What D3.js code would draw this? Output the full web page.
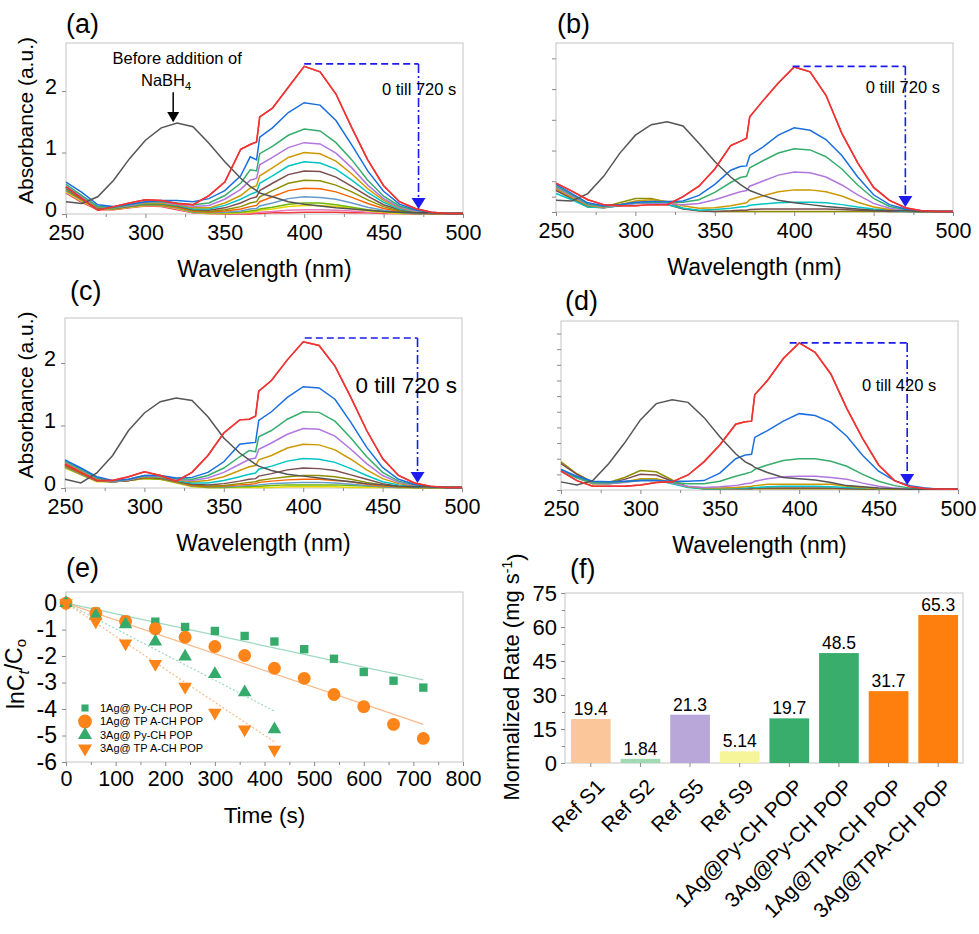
<!DOCTYPE html>
<html>
<head>
<meta charset="utf-8">
<script src="https://cdn.jsdelivr.net/npm/d3@7"></script>
<style>
  body { margin: 0; background: #fff; }
  svg { font-family: Arial, "Liberation Sans", sans-serif; }
</style>
</head>
<body>
<svg id="fig" width="979" height="934"></svg>
<script>
// ---- Data ----

// wavelength grid shared by every spectrum (nm)
const wavelengths = [250,260,270,280,290,300,310,320,330,340,350,360,366,370,372,380,390,400,410,420,430,440,450,460,470,480,490,500]

// line colours, first = 0 s (red), then later times
const lineColors = ['#f03434','#1a6fdf','#37ad6b','#b177de','#cc9900','#00c4c4','#7d4e4e','#8e8e00','#fb6501','#6699cc','#6fb802','#e8d800','#e878b8','#ef3b3b']

// (a) 1Ag@Py-CH POP, 0 till 720 s
const beforeA = [0.20,0.17,0.28,0.55,0.90,1.20,1.40,1.48,1.42,1.15,0.85,0.58,0.45,0.38,0.34,0.28,0.20,0.16,0.13,0.10,0.08,0.06,0.04,0.03,0.02,0.02,0.01,0.01]
const spectraA = [
  [0.44,0.25,0.06,0.12,0.18,0.23,0.22,0.17,0.15,0.30,0.52,1.05,1.13,1.17,1.58,1.72,2.06,2.40,2.31,1.95,1.40,0.88,0.46,0.20,0.09,0.03,0.01,0.01],
  [0.52,0.35,0.15,0.12,0.16,0.20,0.22,0.22,0.20,0.25,0.38,0.62,0.93,0.88,1.25,1.40,1.65,1.81,1.77,1.52,1.12,0.70,0.37,0.16,0.07,0.03,0.01,0.01],
  [0.48,0.30,0.12,0.10,0.15,0.20,0.20,0.18,0.15,0.18,0.30,0.50,0.72,0.70,0.98,1.10,1.28,1.38,1.35,1.16,0.88,0.55,0.29,0.13,0.06,0.02,0.01,0.01],
  [0.45,0.28,0.12,0.10,0.14,0.19,0.19,0.16,0.12,0.14,0.24,0.40,0.55,0.58,0.80,0.92,1.08,1.16,1.14,0.99,0.75,0.47,0.25,0.11,0.05,0.02,0.01,0.01],
  [0.44,0.27,0.11,0.10,0.14,0.18,0.18,0.15,0.10,0.10,0.18,0.30,0.42,0.46,0.62,0.75,0.92,1.00,0.98,0.86,0.65,0.41,0.22,0.10,0.04,0.02,0.01,0.01],
  [0.42,0.26,0.11,0.10,0.13,0.17,0.17,0.14,0.08,0.08,0.14,0.24,0.32,0.36,0.50,0.62,0.78,0.85,0.83,0.73,0.55,0.35,0.19,0.08,0.04,0.02,0.01,0.01],
  [0.42,0.25,0.10,0.10,0.13,0.17,0.17,0.13,0.07,0.06,0.10,0.18,0.25,0.28,0.38,0.50,0.64,0.70,0.69,0.60,0.45,0.29,0.15,0.07,0.03,0.01,0.01,0.01],
  [0.40,0.24,0.10,0.09,0.12,0.16,0.16,0.12,0.06,0.04,0.07,0.12,0.18,0.20,0.28,0.38,0.50,0.55,0.54,0.47,0.36,0.23,0.12,0.05,0.02,0.01,0.01,0.01],
  [0.40,0.24,0.10,0.09,0.12,0.16,0.15,0.11,0.05,0.03,0.05,0.08,0.12,0.14,0.20,0.28,0.38,0.42,0.41,0.36,0.27,0.17,0.09,0.04,0.02,0.01,0.01,0.01],
  [0.38,0.23,0.09,0.09,0.12,0.15,0.15,0.10,0.04,0.02,0.03,0.05,0.08,0.09,0.13,0.18,0.25,0.28,0.27,0.24,0.18,0.11,0.06,0.03,0.01,0.01,0.01,0.01],
  [0.38,0.22,0.09,0.08,0.12,0.15,0.14,0.10,0.03,0.02,0.02,0.03,0.05,0.06,0.08,0.11,0.16,0.18,0.18,0.15,0.11,0.07,0.04,0.02,0.01,0.01,0.01,0.01],
  [0.36,0.21,0.08,0.08,0.11,0.14,0.14,0.09,0.03,0.01,0.01,0.02,0.03,0.04,0.06,0.08,0.12,0.14,0.14,0.12,0.09,0.05,0.03,0.01,0.01,0.01,0.01,0.01],
  [0.35,0.20,0.08,0.08,0.11,0.14,0.13,0.08,0.02,0.01,0.01,0.01,0.02,0.02,0.03,0.04,0.06,0.07,0.07,0.06,0.05,0.03,0.02,0.01,0.01,0.01,0.01,0.01],
  [0.34,0.19,0.07,0.07,0.10,0.13,0.12,0.07,0.02,0.01,0.00,0.00,0.00,0.01,0.01,0.02,0.02,0.03,0.03,0.03,0.02,0.02,0.01,0.01,0.00,0.00,0.00,0.00]
]

// (b) 3Ag@Py-CH POP, 0 till 720 s
const beforeB = [0.19,0.18,0.30,0.58,0.95,1.25,1.42,1.47,1.40,1.12,0.82,0.57,0.45,0.38,0.35,0.27,0.19,0.15,0.12,0.09,0.07,0.05,0.03,0.02,0.02,0.01,0.01,0.01]
const spectraB = [
  [0.47,0.34,0.20,0.12,0.10,0.10,0.12,0.12,0.25,0.42,0.70,1.08,1.15,1.20,1.55,1.80,2.10,2.36,2.28,1.90,1.28,0.80,0.40,0.19,0.07,0.02,0.01,0.01],
  [0.45,0.30,0.15,0.10,0.12,0.16,0.17,0.17,0.18,0.27,0.45,0.68,0.74,0.75,0.92,1.05,1.25,1.37,1.33,1.18,0.92,0.57,0.28,0.12,0.05,0.02,0.01,0.01],
  [0.42,0.28,0.13,0.09,0.12,0.15,0.16,0.16,0.16,0.20,0.32,0.48,0.56,0.58,0.72,0.83,0.96,1.03,1.01,0.90,0.70,0.44,0.22,0.09,0.04,0.02,0.01,0.01],
  [0.40,0.26,0.12,0.08,0.11,0.14,0.15,0.14,0.12,0.14,0.20,0.28,0.33,0.35,0.42,0.50,0.60,0.65,0.64,0.57,0.44,0.28,0.14,0.06,0.03,0.01,0.01,0.01],
  [0.38,0.24,0.11,0.07,0.12,0.18,0.20,0.17,0.10,0.06,0.07,0.10,0.13,0.15,0.20,0.26,0.33,0.36,0.36,0.33,0.26,0.16,0.08,0.04,0.02,0.01,0.01,0.01],
  [0.30,0.20,0.08,0.07,0.10,0.14,0.15,0.12,0.06,0.03,0.04,0.06,0.08,0.09,0.11,0.13,0.15,0.16,0.16,0.15,0.12,0.08,0.05,0.03,0.01,0.01,0.01,0.01],
  [0.35,0.22,0.09,0.07,0.10,0.15,0.16,0.12,0.05,0.02,0.01,0.02,0.03,0.03,0.04,0.05,0.05,0.05,0.05,0.05,0.04,0.03,0.02,0.01,0.01,0.01,0.01,0.01],
  [0.38,0.22,0.08,0.08,0.15,0.22,0.22,0.16,0.06,0.02,0.01,0.01,0.01,0.01,0.01,0.01,0.01,0.01,0.01,0.01,0.01,0.01,0.01,0.01,0.01,0.00,0.00,0.00]
]

// (c) 1Ag@TPA-CH POP, 0 till 720 s
const beforeC = [0.14,0.08,0.24,0.52,0.92,1.20,1.38,1.44,1.40,1.14,0.80,0.56,0.45,0.38,0.35,0.28,0.22,0.19,0.16,0.13,0.10,0.07,0.05,0.03,0.02,0.02,0.01,0.01]
const spectraC = [
  [0.38,0.25,0.12,0.12,0.18,0.26,0.20,0.11,0.25,0.52,0.88,1.09,1.10,1.15,1.55,1.72,2.05,2.34,2.28,1.95,1.45,0.92,0.47,0.20,0.08,0.03,0.01,0.01],
  [0.45,0.32,0.18,0.12,0.14,0.20,0.20,0.16,0.17,0.25,0.42,0.70,0.72,0.73,1.08,1.22,1.45,1.62,1.60,1.42,1.05,0.65,0.33,0.14,0.06,0.02,0.01,0.01],
  [0.43,0.30,0.16,0.11,0.14,0.20,0.20,0.15,0.14,0.20,0.32,0.50,0.60,0.58,0.82,0.92,1.10,1.22,1.21,1.07,0.80,0.50,0.25,0.11,0.05,0.02,0.01,0.01],
  [0.42,0.29,0.15,0.10,0.13,0.19,0.19,0.14,0.12,0.16,0.25,0.38,0.46,0.48,0.62,0.72,0.86,0.95,0.94,0.83,0.62,0.39,0.20,0.09,0.04,0.02,0.01,0.01],
  [0.40,0.28,0.14,0.10,0.13,0.18,0.18,0.13,0.10,0.12,0.18,0.28,0.34,0.36,0.45,0.52,0.64,0.70,0.69,0.61,0.46,0.29,0.15,0.07,0.03,0.01,0.01,0.01],
  [0.38,0.26,0.13,0.10,0.13,0.18,0.17,0.12,0.08,0.08,0.12,0.18,0.22,0.24,0.30,0.35,0.43,0.47,0.46,0.41,0.31,0.20,0.10,0.05,0.02,0.01,0.01,0.01],
  [0.37,0.25,0.13,0.10,0.12,0.17,0.16,0.11,0.06,0.05,0.07,0.11,0.14,0.15,0.19,0.23,0.29,0.32,0.31,0.28,0.21,0.14,0.07,0.03,0.02,0.01,0.01,0.01],
  [0.36,0.24,0.12,0.10,0.12,0.17,0.16,0.10,0.05,0.03,0.04,0.07,0.09,0.10,0.12,0.15,0.18,0.20,0.20,0.18,0.14,0.09,0.05,0.02,0.01,0.01,0.01,0.01],
  [0.35,0.23,0.12,0.10,0.12,0.16,0.15,0.10,0.04,0.02,0.03,0.05,0.06,0.07,0.09,0.11,0.13,0.14,0.14,0.12,0.10,0.06,0.03,0.02,0.01,0.01,0.01,0.01],
  [0.34,0.22,0.11,0.10,0.12,0.16,0.15,0.09,0.03,0.02,0.02,0.03,0.04,0.04,0.05,0.07,0.08,0.09,0.09,0.08,0.06,0.04,0.02,0.01,0.01,0.01,0.01,0.01],
  [0.33,0.22,0.11,0.10,0.12,0.15,0.14,0.09,0.03,0.01,0.01,0.02,0.02,0.03,0.03,0.04,0.05,0.05,0.05,0.05,0.04,0.03,0.02,0.01,0.01,0.01,0.01,0.01],
  [0.32,0.21,0.10,0.10,0.12,0.15,0.14,0.08,0.02,0.01,0.01,0.01,0.01,0.01,0.01,0.01,0.02,0.02,0.02,0.02,0.01,0.01,0.01,0.01,0.00,0.00,0.00,0.00]
]

// (d) 3Ag@TPA-CH POP, 0 till 420 s
const beforeD = [0.13,0.08,0.15,0.42,0.75,1.12,1.38,1.44,1.40,1.16,0.85,0.58,0.45,0.40,0.36,0.28,0.20,0.18,0.16,0.12,0.07,0.05,0.03,0.02,0.01,0.01,0.01,0.01]
const spectraD = [
  [0.30,0.15,0.06,0.06,0.06,0.08,0.12,0.13,0.24,0.45,0.72,1.05,1.09,1.10,1.52,1.75,2.10,2.35,2.20,1.85,1.30,0.82,0.40,0.15,0.05,0.02,0.01,0.01],
  [0.33,0.22,0.14,0.13,0.14,0.15,0.15,0.14,0.14,0.15,0.27,0.50,0.56,0.57,0.84,0.95,1.10,1.22,1.19,1.08,0.86,0.55,0.30,0.15,0.07,0.03,0.01,0.01],
  [0.33,0.20,0.12,0.11,0.13,0.15,0.15,0.12,0.10,0.10,0.14,0.22,0.26,0.29,0.33,0.40,0.47,0.50,0.50,0.46,0.38,0.25,0.14,0.07,0.03,0.01,0.01,0.01],
  [0.32,0.20,0.11,0.10,0.12,0.15,0.15,0.11,0.06,0.04,0.05,0.07,0.10,0.11,0.14,0.18,0.21,0.22,0.22,0.20,0.17,0.11,0.06,0.03,0.02,0.01,0.01,0.01],
  [0.32,0.20,0.10,0.10,0.13,0.18,0.18,0.12,0.05,0.03,0.03,0.04,0.05,0.06,0.07,0.09,0.09,0.09,0.09,0.09,0.06,0.04,0.02,0.01,0.01,0.01,0.01,0.01],
  [0.30,0.19,0.10,0.10,0.13,0.16,0.16,0.10,0.04,0.02,0.02,0.03,0.03,0.04,0.04,0.05,0.06,0.06,0.06,0.05,0.04,0.03,0.02,0.01,0.01,0.01,0.01,0.01],
  [0.42,0.25,0.12,0.11,0.17,0.25,0.24,0.14,0.05,0.02,0.02,0.02,0.02,0.02,0.03,0.03,0.03,0.03,0.03,0.03,0.02,0.02,0.01,0.01,0.01,0.01,0.01,0.01],
  [0.45,0.26,0.12,0.12,0.20,0.31,0.29,0.16,0.05,0.02,0.02,0.02,0.02,0.02,0.02,0.02,0.02,0.02,0.02,0.02,0.02,0.01,0.01,0.01,0.01,0.01,0.01,0.01]
]

// (e) kinetics, ln(Ct/Co) vs time
const seriesNames = ['1Ag@ Py-CH POP', '1Ag@ TP A-CH POP', '3Ag@ Py-CH POP', '3Ag@ TP A-CH POP']
const time1 = [0,60,120,180,240,300,360,420,480,540,600,660,720]
const time3 = [0,60,120,180,240,300,360,420]
const lnPy1 = [0,-0.32,-0.63,-0.70,-0.90,-1.05,-1.24,-1.45,-1.74,-2.10,-2.60,-2.93,-3.19]
const lnTpa1 = [0,-0.38,-0.69,-0.97,-1.29,-1.64,-1.98,-2.46,-2.84,-3.45,-3.91,-4.58,-5.11]
const lnPy3 = [0,-0.48,-0.80,-1.45,-2.02,-2.68,-3.37,-4.77]
const lnTpa3 = [0,-0.69,-1.52,-2.30,-3.16,-4.14,-4.77,-5.53]
// fitted rate constants (slope of ln(Ct/Co) per s)
const fitSlopes = [-0.00403, -0.00636, -0.00971, -0.01248]

// (f) normalized rate
const rateLabels = ['Ref S1','Ref S2','Ref S5','Ref S9','1Ag@Py-CH POP','3Ag@Py-CH POP','1Ag@TPA-CH POP','3Ag@TPA-CH POP']
const rateValues = [19.4, 1.84, 21.3, 5.14, 19.7, 48.5, 31.7, 65.3]
const rateText = ['19.4','1.84','21.3','5.14','19.7','48.5','31.7','65.3']
const rateColors = ['#fbc69a','#9fdab3','#b9a7d9','#f7f59a','#38ad6c','#38ad6c','#ff7f0e','#ff7f0e']

// ---- Drawing ----
const svg = d3.select('#fig')
const fontFamily = 'Arial, "Liberation Sans", sans-serif'
const frameColor = '#c4c4c4'
const tickColor = '#8a8a8a'
const arrowBlue = '#1c1cf0'

function styleAxis(g, fontSize) {
  g.select('.domain').remove()
  g.selectAll('.tick line').attr('stroke', tickColor)
  g.selectAll('.tick text').attr('fill', '#000').style('font-size', fontSize + 'px').style('font-family', fontFamily)
}

function panelLabel(text, x, y) {
  svg.append('text').attr('x', x).attr('y', y).text(text)
    .style('font-size', '27px')
}

// spectral panel
function drawSpectra(p) {
  const g = svg.append('g')
  const x = d3.scaleLinear().domain([250, 500]).range([p.x0, p.x1])
  const y = d3.scaleLinear().domain([0, p.yMax]).range([p.y0, p.yTop])

  g.append('rect')
    .attr('x', p.x0).attr('y', p.yTop)
    .attr('width', p.x1 - p.x0).attr('height', p.y0 - p.yTop)
    .attr('fill', 'none').attr('stroke', frameColor)

  // bottom axis, major + minor
  const xa = g.append('g').attr('transform', `translate(0,${p.y0})`)
    .call(d3.axisBottom(x).tickValues([250,300,350,400,450,500]).tickSize(4).tickPadding(7))
  styleAxis(xa, 21.5)
  const xm = g.append('g').attr('transform', `translate(0,${p.y0})`)
    .call(d3.axisBottom(x).tickValues([275,325,375,425,475]).tickSize(3).tickFormat(''))
  styleAxis(xm, 10)

  // left axis
  const ya = g.append('g').attr('transform', `translate(${p.x0},0)`)
    .call(d3.axisLeft(y).tickValues(p.yTicks).tickSize(4).tickPadding(5)
      .tickFormat(p.yLabels ? d3.format('d') : ''))
  styleAxis(ya, 21.5)
  ya.selectAll('.tick text').attr('dy', '0.1em')

  // spectra, drawn from last to first so 0 s lies on top
  const line = d3.line().x((d, i) => x(wavelengths[i])).y(d => y(d))
  const series = p.spectra.map((s, i) => ({ values: s, color: lineColors[i] }))
  series.slice().reverse().forEach(s => {
    g.append('path').attr('d', line(s.values))
      .attr('fill', 'none').attr('stroke', s.color).attr('stroke-width', 1.5)
  })
  g.append('path').attr('d', line(p.before))
    .attr('fill', 'none').attr('stroke', '#555').attr('stroke-width', 1.5)
  g.append('path').attr('d', line(p.spectra[0]))
    .attr('fill', 'none').attr('stroke', lineColors[0]).attr('stroke-width', 1.5)

  // time arrow annotation
  const a = p.ann
  g.append('line')
    .attr('x1', x(a.from)).attr('x2', x(a.to)).attr('y1', y(a.top)).attr('y2', y(a.top))
    .attr('stroke', arrowBlue).attr('stroke-width', 1.6).attr('stroke-dasharray', '7,4')
  g.append('line')
    .attr('x1', x(a.to)).attr('x2', x(a.to)).attr('y1', y(a.top)).attr('y2', y(a.tip) - 9)
    .attr('stroke', arrowBlue).attr('stroke-width', 1.6).attr('stroke-dasharray', '9,3,2,3')
  g.append('path')
    .attr('d', `M${x(a.to) - 7},${y(a.tip) - 11}L${x(a.to) + 7},${y(a.tip) - 11}L${x(a.to)},${y(a.tip)}Z`)
    .attr('fill', arrowBlue)
  g.append('text')
    .attr('x', x(a.textX)).attr('y', y(a.textY)).attr('dy', '0.35em')
    .text(a.text).style('font-size', a.size + 'px')

  // axis titles
  g.append('text').attr('x', (p.x0 + p.x1) / 2).attr('y', p.y0 + 63)
    .attr('text-anchor', 'middle').text('Wavelength (nm)').style('font-size', '23px')
  if (p.yTitle) {
    g.append('text')
      .attr('transform', `translate(33,${(p.y0 + p.yTop) / 2 - 8}) rotate(-90)`)
      .attr('text-anchor', 'middle').text('Absorbance (a.u.)').style('font-size', '21px')
  }
  return { x, y, g }
}

const pa = drawSpectra({
  x0: 66, x1: 463, y0: 214, yTop: 43, yMax: 2.78, yTicks: [0, 1, 2], yLabels: true, yTitle: true,
  spectra: spectraA, before: beforeA,
  ann: { from: 400, to: 472, top: 2.44, tip: 0.08, textX: 449, textY: 2.03, text: '0 till 720 s', size: 16.5 }
})
// "before NaBH4" note
pa.g.append('text').attr('x', pa.x(320)).attr('y', pa.y(2.54)).attr('dy', '0.35em')
  .attr('text-anchor', 'middle').text('Before addition of').style('font-size', '16.5px')
const nb = pa.g.append('text').attr('x', pa.x(313)).attr('y', pa.y(2.18)).attr('dy', '0.35em')
  .attr('text-anchor', 'middle').style('font-size', '16.5px')
nb.append('tspan').text('NaBH')
nb.append('tspan').text('4').attr('dy', '0.35em').style('font-size', '11px')
pa.g.append('line').attr('x1', pa.x(317.5)).attr('x2', pa.x(317.5)).attr('y1', pa.y(1.98)).attr('y2', pa.y(1.62))
  .attr('stroke', '#000').attr('stroke-width', 1.5)
pa.g.append('path')
  .attr('d', `M${pa.x(317.5) - 6},${pa.y(1.66)}L${pa.x(317.5) + 6},${pa.y(1.66)}L${pa.x(317.5)},${pa.y(1.49)}Z`)
  .attr('fill', '#000')

drawSpectra({
  x0: 556, x1: 953, y0: 212, yTop: 43, yMax: 2.75, yTicks: [0, 0.25, 0.5, 1, 1.5, 2, 2.5], yLabels: false,
  spectra: spectraB, before: beforeB,
  ann: { from: 399, to: 470, top: 2.37, tip: 0.08, textX: 445, textY: 2.03, text: '0 till 720 s', size: 16.5 }
})

drawSpectra({
  x0: 65, x1: 462, y0: 488, yTop: 318, yMax: 2.72, yTicks: [0, 1, 2], yLabels: true, yTitle: true,
  spectra: spectraC, before: beforeC,
  ann: { from: 401, to: 472, top: 2.4, tip: 0.08, textX: 433, textY: 1.65, text: '0 till 720 s', size: 22.5 }
})

drawSpectra({
  x0: 561, x1: 958, y0: 490, yTop: 321, yMax: 2.7, yTicks: d3.range(0, 2.75, 0.25), yLabels: false,
  spectra: spectraD, before: beforeD,
  ann: { from: 394, to: 468, top: 2.35, tip: 0.08, textX: 439.5, textY: 1.68, text: '0 till 420 s', size: 16.5 }
})

panelLabel('(a)', 66, 33)
panelLabel('(b)', 557, 33)
panelLabel('(c)', 70, 300)
panelLabel('(d)', 565, 310)
panelLabel('(e)', 66, 577)
panelLabel('(f)', 570, 578)

// ---- (e) kinetics ----
{
  const x0 = 66, x1 = 463, yTop = 592, y0 = 762
  const x = d3.scaleLinear().domain([0, 800]).range([x0, x1])
  const y = d3.scaleLinear().domain([-6, 0.42]).range([y0, yTop])
  const g = svg.append('g')
  g.append('rect').attr('x', x0).attr('y', yTop).attr('width', x1 - x0).attr('height', y0 - yTop)
    .attr('fill', 'none').attr('stroke', frameColor)
  const xa = g.append('g').attr('transform', `translate(0,${y0})`)
    .call(d3.axisBottom(x).tickValues(d3.range(0, 801, 100)).tickSize(4).tickPadding(5))
  styleAxis(xa, 21.5)
  const xm = g.append('g').attr('transform', `translate(0,${y0})`)
    .call(d3.axisBottom(x).tickValues(d3.range(50, 800, 100)).tickSize(3).tickFormat(''))
  styleAxis(xm, 10)
  const ya = g.append('g').attr('transform', `translate(${x0},0)`)
    .call(d3.axisLeft(y).tickValues(d3.range(-6, 1, 1)).tickSize(4).tickPadding(5).tickFormat(d3.format('d')))
  styleAxis(ya, 23)
  ya.selectAll('.tick text').text(d => d < 0 ? '-' + Math.abs(d) : d)

  const green = '#35ab6b', orange = '#fd8418'
  const sets = [
    { t: time1, v: lnPy1, color: green, fit: '#9ed8bf', dash: null, sym: d3.symbolSquare, size: 70, rot: 0 },
    { t: time1, v: lnTpa1, color: orange, fit: '#f9b98a', dash: null, sym: d3.symbolCircle, size: 130, rot: 0 },
    { t: time3, v: lnPy3, color: green, fit: '#9ed8bf', dash: '2,2', sym: d3.symbolTriangle, size: 80, rot: 0 },
    { t: time3, v: lnTpa3, color: orange, fit: '#f9b98a', dash: '2,2', sym: d3.symbolTriangle, size: 80, rot: 180 }
  ]
  sets.forEach((s, i) => {
    const tEnd = s.t[s.t.length - 1]
    g.append('line').attr('x1', x(0)).attr('y1', y(0)).attr('x2', x(tEnd)).attr('y2', y(fitSlopes[i] * tEnd))
      .attr('stroke', s.fit).attr('stroke-width', 1.2).attr('stroke-dasharray', s.dash)
  })
  sets.forEach(s => {
    g.selectAll(null).data(s.t).enter().append('path')
      .attr('d', d3.symbol().type(s.sym).size(s.size))
      .attr('transform', (d, j) => `translate(${x(d)},${y(s.v[j])}) rotate(${s.rot})`)
      .attr('fill', s.color)
  })
  // legend
  const ly = [708, 721.5, 735, 748.5]
  sets.forEach((s, i) => {
    g.append('path').attr('d', d3.symbol().type(s.sym).size(i === 1 ? 150 : (i === 0 ? 50 : 85)))
      .attr('transform', `translate(85,${ly[i]}) rotate(${s.rot})`).attr('fill', s.color)
    g.append('text').attr('x', 100).attr('y', ly[i]).attr('dy', '0.35em')
      .text(seriesNames[i]).style('font-size', '11px').style('font-family', 'Arial, "Liberation Sans", "DejaVu Sans", sans-serif')
  })
  g.append('text').attr('x', (x0 + x1) / 2).attr('y', 823).attr('text-anchor', 'middle')
    .text('Time (s)').style('font-size', '22.5px')
  const yl = g.append('text').attr('transform', `translate(24,674) rotate(-90)`)
    .attr('text-anchor', 'middle').style('font-size', '23px')
  yl.append('tspan').text('lnC')
  yl.append('tspan').text('t').attr('dy', '0.3em').style('font-size', '15px').style('font-style', 'italic')
  yl.append('tspan').text('/C').attr('dy', '-0.3em')
  yl.append('tspan').text('o').attr('dy', '0.3em').style('font-size', '15px')
}

// ---- (f) normalized rate ----
{
  const x0 = 565, x1 = 963, yTop = 593, y0 = 763
  const x = d3.scaleBand().domain(rateLabels).range([566, x1]).paddingInner(0.2).paddingOuter(0.1)
  const y = d3.scaleLinear().domain([0, 75]).range([y0, yTop])
  const g = svg.append('g')
  g.append('rect').attr('x', x0).attr('y', yTop).attr('width', x1 - x0).attr('height', y0 - yTop)
    .attr('fill', 'none').attr('stroke', frameColor)
  g.selectAll('.bar').data(rateValues).enter().append('rect')
    .attr('x', (d, i) => x(rateLabels[i])).attr('width', x.bandwidth())
    .attr('y', d => y(d)).attr('height', d => y0 - y(d))
    .attr('fill', (d, i) => rateColors[i])
  g.selectAll('.val').data(rateValues).enter().append('text')
    .attr('x', (d, i) => x(rateLabels[i]) + x.bandwidth() / 2).attr('y', d => y(d) - 4)
    .attr('text-anchor', 'middle').text((d, i) => rateText[i]).style('font-size', '17.5px')

  const xa = g.append('g').attr('transform', `translate(0,${y0})`)
    .call(d3.axisBottom(x).tickSize(4).tickFormat(''))
  styleAxis(xa, 10)
  g.selectAll('.xlab').data(rateLabels).enter().append('text')
    .attr('transform', d => `translate(${x(d) + x.bandwidth() / 2 + 15},${y0 + 25}) rotate(-45)`)
    .attr('text-anchor', 'end').text(d => d).style('font-size', '21px')

  const ya = g.append('g').attr('transform', `translate(${x0},0)`)
    .call(d3.axisLeft(y).tickValues(d3.range(0, 76, 15)).tickSize(4).tickPadding(4))
  styleAxis(ya, 22)
  const ym = g.append('g').attr('transform', `translate(${x0},0)`)
    .call(d3.axisLeft(y).tickValues(d3.range(7.5, 75, 15)).tickSize(3).tickFormat(''))
  styleAxis(ym, 10)

  const yl = g.append('text').attr('transform', `translate(519,677) rotate(-90)`)
    .attr('text-anchor', 'middle').style('font-size', '22px')
  yl.append('tspan').text('Mormalized Rate (mg s')
  yl.append('tspan').text('-1').attr('dy', '-0.5em').style('font-size', '14px')
  yl.append('tspan').text(')').attr('dy', '0.5em')
}
</script>
</body>
</html>
